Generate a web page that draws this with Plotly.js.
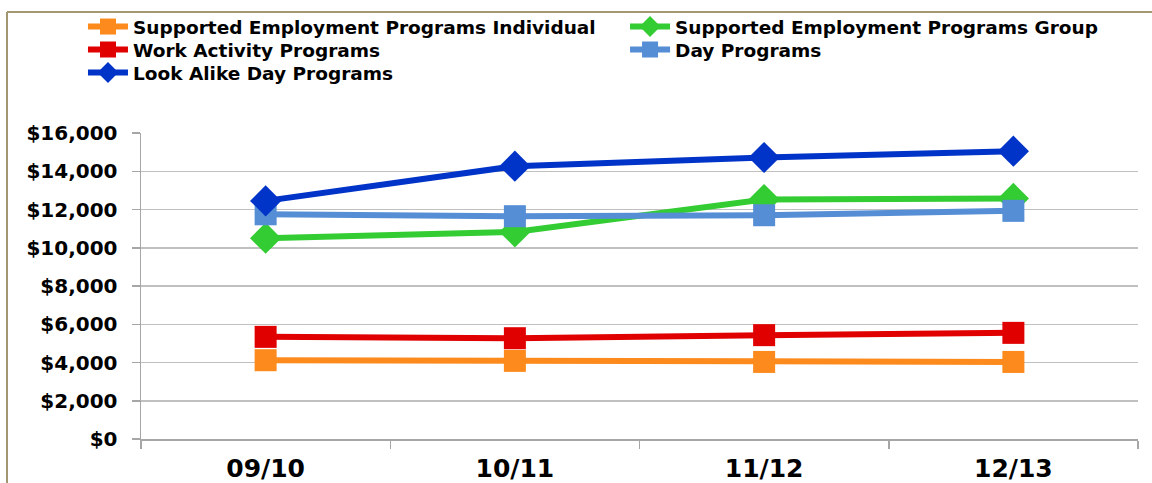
<!DOCTYPE html>
<html>
<head>
<meta charset="utf-8">
<script src="https://cdn.plot.ly/plotly-3.0.1.min.js"></script>
<style>
  html, body { margin: 0; padding: 0; background: #ffffff; }
  #chart { width: 1152px; height: 483px; }
</style>
</head>
<body>
<div id="chart"></div>
<script>
// ---- Data ----
const years = ["09/10", "10/11", "11/12", "12/13"];

const seIndividual = [4120, 4085, 4030, 4030];
const seGroup      = [10500, 10830, 12520, 12580];
const workActivity = [5340, 5270, 5430, 5550];
const dayPrograms  = [11750, 11650, 11700, 11930];
const lookAlikeDay = [12450, 14265, 14720, 15050];

const seriesNames = [
  "Supported Employment Programs Individual",
  "Supported Employment Programs Group",
  "Work Activity Programs",
  "Day Programs",
  "Look Alike Day Programs"
];

const yTickValues = [0, 2000, 4000, 6000, 8000, 10000, 12000, 14000, 16000];
const yTickLabels = ["$0", "$2,000", "$4,000", "$6,000", "$8,000", "$10,000", "$12,000", "$14,000", "$16,000"];

// ---- Traces ----
function mk(name, values, color, symbol, size, legendId) {
  return {
    type: "scatter",
    mode: "lines+markers",
    name: name,
    x: years,
    y: values,
    legend: legendId,
    line: { color: color, width: 6 },
    marker: { color: color, symbol: symbol, size: size, line: { width: 0 } },
    hoverinfo: "x+y+name"
  };
}

const traces = [
  mk(seriesNames[0], seIndividual, "#fd8a1d", "square", 22, "legend"),
  mk(seriesNames[1], seGroup,      "#33cc33", "diamond", 24, "legend2"),
  mk(seriesNames[2], workActivity, "#e00000", "square", 22, "legend3"),
  mk(seriesNames[3], dayPrograms,  "#558ed5", "square", 22, "legend4"),
  mk(seriesNames[4], lookAlikeDay, "#0033c8", "diamond", 24, "legend5")
];

const legendFont = { family: "DejaVu Sans, Arial, sans-serif", size: 18.5, color: "#000000", weight: "bold" };

function leg(x, y) {
  return {
    orientation: "v",
    x: x, xanchor: "left",
    y: y, yanchor: "top",
    font: legendFont,
    tracegroupgap: 0,
    itemwidth: 40,
    bgcolor: "rgba(0,0,0,0)"
  };
}

const col1 = -0.0582, col2 = 0.4855;
const row1 = 1.4085, row2 = 1.3334, row3 = 1.2582;

const layout = {
  width: 1152,
  height: 483,
  margin: { l: 141, r: 14, t: 133, b: 44, autoexpand: false },
  paper_bgcolor: "#ffffff",
  plot_bgcolor: "#ffffff",
  font: { family: "DejaVu Sans, Arial, sans-serif", color: "#000000" },
  showlegend: true,
  legend: leg(col1, row1),
  legend2: leg(col2, row1),
  legend3: leg(col1, row2),
  legend4: leg(col2, row2),
  legend5: leg(col1, row3),
  xaxis: {
    type: "category",
    categoryorder: "array",
    categoryarray: years,
    range: [-0.5, 3.5],
    tickson: "boundaries",
    ticks: "outside",
    ticklen: 8,
    tickcolor: "#a6a6a6",
    tickwidth: 1.5,
    showline: true,
    linecolor: "#a6a6a6",
    linewidth: 1.5,
    showgrid: false,
    zeroline: false,
    ticklabelstandoff: 6,
    tickfont: { family: "DejaVu Sans, Arial, sans-serif", size: 25, color: "#000000", weight: "bold" }
  },
  yaxis: {
    range: [0, 16000],
    tickmode: "array",
    tickvals: yTickValues,
    ticktext: yTickLabels,
    ticks: "outside",
    ticklen: 8,
    tickcolor: "#a6a6a6",
    tickwidth: 1.5,
    showline: true,
    linecolor: "#a6a6a6",
    linewidth: 1.5,
    showgrid: true,
    gridcolor: "#c0c0c0",
    gridwidth: 1.5,
    zeroline: false,
    ticklabelstandoff: 10,
    tickfont: { family: "DejaVu Sans, Arial, sans-serif", size: 20, color: "#000000", weight: "bold" }
  },
  shapes: [
    { type: "line", xref: "paper", yref: "paper", x0: -0.1344, x1: 1.02, y0: 1.3955, y1: 1.3955,
      line: { color: "#a39771", width: 2 } },
    { type: "line", xref: "paper", yref: "paper", x0: -0.1344, x1: -0.1344, y0: 1.3955, y1: -0.2,
      line: { color: "#a39771", width: 2 } }
  ]
};

Plotly.newPlot("chart", traces, layout, { displayModeBar: false, staticPlot: true });
</script>
</body>
</html>
